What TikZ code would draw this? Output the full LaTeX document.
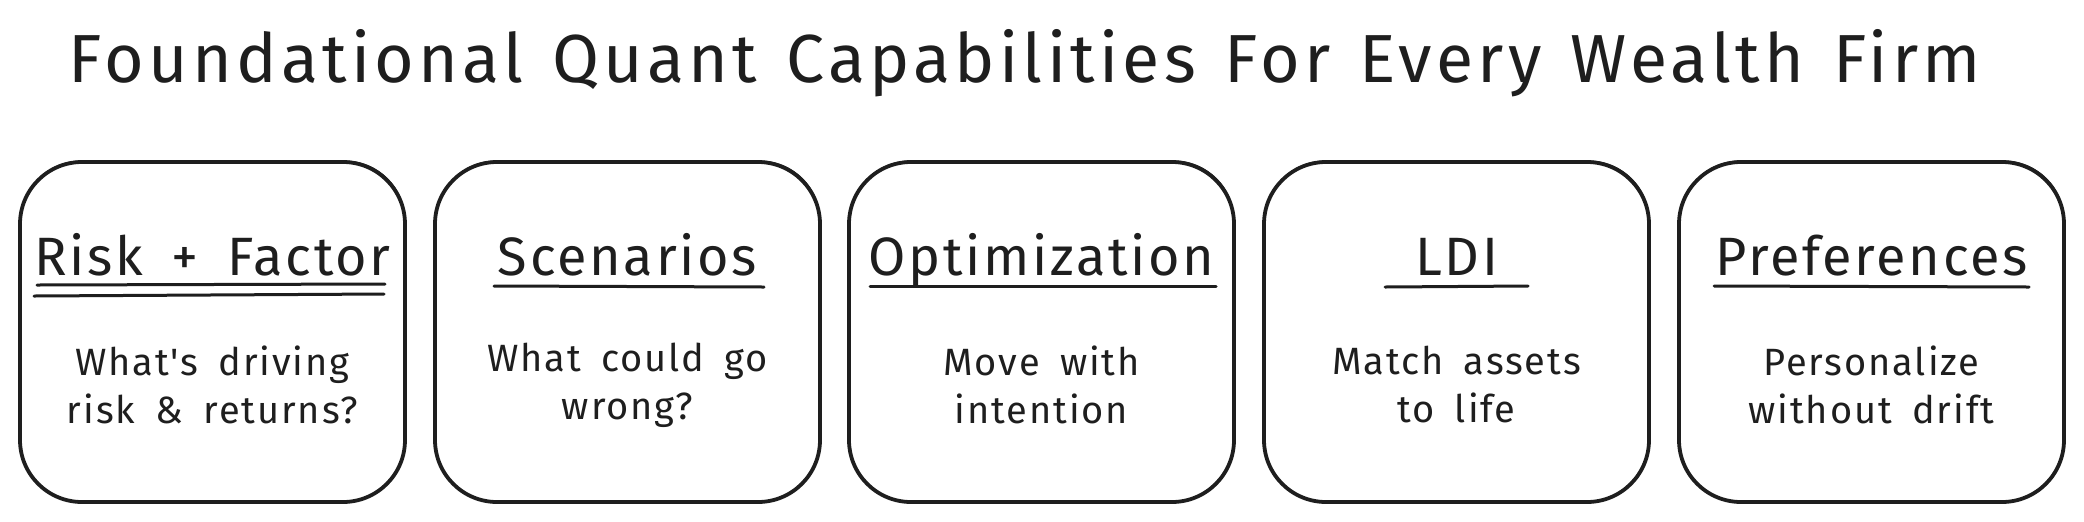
\documentclass[tikz,border=0pt]{standalone}
\usepackage{fontspec}
\setmainfont{Fira Sans}
\newfontfamily\handfont[LetterSpace=5,WordSpace=1.7]{Fira Sans}
\newfontfamily\titlefont[LetterSpace=6.3,WordSpace=1.3]{Fira Sans}
\definecolor{ink}{HTML}{1E1E1E}
\tikzset{
  card/.style={draw=ink, line width=1.9pt, rounded corners=31pt, minimum width=192.5pt, minimum height=170pt, inner sep=0pt},
  sketch/.style={draw=ink, line width=0.6pt, rounded corners=30pt},
  heading/.style={text=ink, font=\handfont\fontsize{27}{32}\selectfont, anchor=base, inner sep=0pt},
  body/.style={text=ink, font=\handfont\fontsize{19}{24}\selectfont, align=center, inner sep=0pt},
  uline/.style={draw=ink, line width=1.5pt, line cap=round},
}
\begin{document}
\begin{tikzpicture}[x=0.5pt,y=-0.5pt]
\useasboundingbox[fill=white] (0,0) rectangle (2084,521);
\node[text=ink, font=\titlefont\fontsize{34}{40}\selectfont, anchor=base, inner sep=0pt] (title) at (1025,82) {Foundational Quant Capabilities For Every Wealth Firm};
% cards
\node[card] (c1) at (212.5,332) {};
\node[card] (c2) at (627.5,332) {};
\node[card] (c3) at (1041.5,332) {};
\node[card] (c4) at (1456.5,332) {};
\node[card] (c5) at (1871.5,332) {};
% sketchy second strokes
\foreach \c in {c1,c2,c3,c4,c5}{
  \draw[sketch] ([shift={(3,1)}]\c.north west) rectangle ([shift={(-2,-2)}]\c.south east);
}
% headings
\node[heading] (h1) at (212.5,275) {Risk + Factor};
\node[heading] (h2) at (627.5,275) {Scenarios};
\node[heading] (h3) at (1041.5,275) {Optimization};
\node[heading] (h4) at (1456.5,275) {LDI};
\node[heading] (h5) at (1871.5,275) {Preferences};
% underlines
\draw[uline] (37,285) -- (385,284);
\draw[uline] (34,296) -- (384,294);
\draw[uline] (494,286) -- (764,287);
\draw[uline] (870,286) -- (1216,286);
\draw[uline] (1385,287) -- (1528,286);
\draw[uline] (1714,286) -- (2029,287);
% bodies
\node[body] (b1) at (212.5,385) {What's driving\\risk \& returns?};
\node[body] (b2) at (627.5,385) {What could go\\wrong?};
\node[body] (b3) at (1041.5,385) {Move with\\intention};
\node[body] (b4) at (1456.5,385) {Match assets\\to life};
\node[body] (b5) at (1871.5,385) {Personalize\\without drift};
\end{tikzpicture}
\end{document}
